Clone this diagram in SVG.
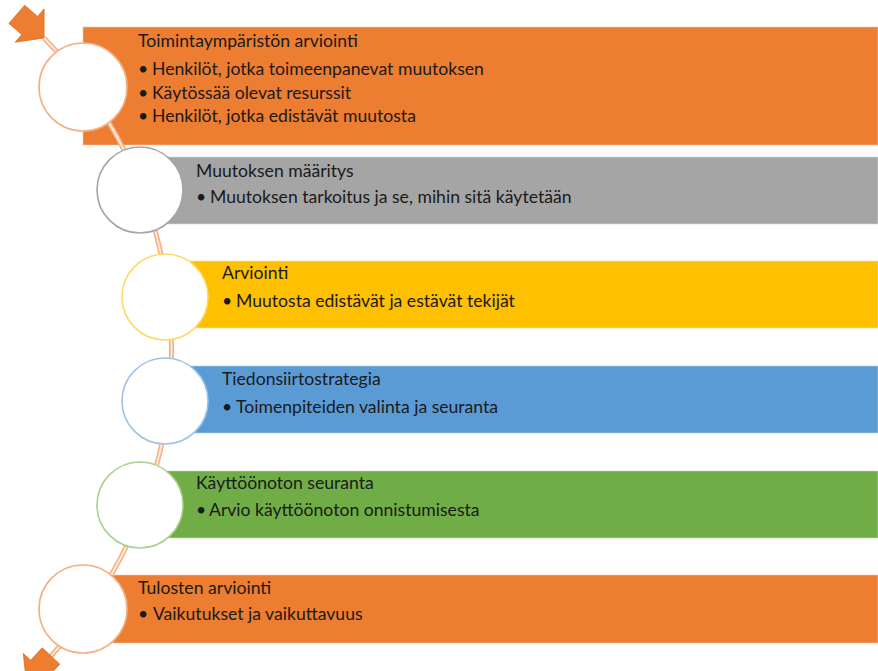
<svg xmlns="http://www.w3.org/2000/svg" width="878" height="671" viewBox="0 0 878 671">
  <style>
    .t { font-family: Lato, "Liberation Sans", sans-serif; font-size: 17.6px; fill: #1a1a1a; }
    .box { stroke-width: 1; stroke-opacity: 0.6; }
    .ring { fill: #ffffff; stroke-width: 1.6; }
    .wire-out { fill: none; stroke: #F4B183; stroke-width: 5; }
    .wire-in { fill: none; stroke: #FDEBDF; stroke-width: 1.8; }
    .arrow { fill: #ED7D31; stroke: #E07020; stroke-width: 0.8; }
  </style>
  <defs>
    <!-- block arrow, tail at origin, pointing along +x -->
    <polygon id="blk" points="0,-12 17,-12 17,-22 36,0 17,22 17,12 0,12"/>
  </defs>
  <rect width="878" height="671" fill="#ffffff"/>

  <!-- coloured bars -->
  <g id="bars">
    <rect class="box" x="83" y="27" width="795" height="118" fill="#ED7D31" stroke="#F8CBAD"/>
    <rect class="box" x="140" y="157" width="738" height="67" fill="#A5A5A5" stroke="#DBDBDB"/>
    <rect class="box" x="165" y="261" width="713" height="67" fill="#FFC000" stroke="#FFE699"/>
    <rect class="box" x="165" y="366" width="713" height="67" fill="#5B9BD5" stroke="#BDD7EE"/>
    <rect class="box" x="140" y="471" width="738" height="67" fill="#70AD47" stroke="#C5E0B4"/>
    <rect class="box" x="83" y="575" width="795" height="68" fill="#ED7D31" stroke="#F8CBAD"/>
  </g>

  <!-- connectors: curved spine with end arrows -->
  <g id="connectors">
    <path class="wire-out" d="M 44 38 A 447 447 0 0 1 51 656"/>
    <path class="wire-in" d="M 44 38 A 447 447 0 0 1 51 656"/>
    <use href="#blk" class="arrow" transform="translate(44 38) rotate(41) translate(-36 0)"/>
    <use href="#blk" class="arrow" transform="translate(51 656) rotate(133)"/>
  </g>

  <g id="n1">
    <circle class="ring" cx="83" cy="87" r="44" stroke="#F4B183"/>
    <text class="t" x="138" y="47">Toimintaympäristön arviointi</text>
    <text class="t" x="138" y="75">•</text><text class="t" x="152" y="75">Henkilöt, jotka toimeenpanevat muutoksen</text>
    <text class="t" x="138" y="99">•</text><text class="t" x="152" y="99">Käytössää olevat resurssit</text>
    <text class="t" x="138" y="122">•</text><text class="t" x="152" y="122">Henkilöt, jotka edistävät muutosta</text>
  </g>

  <g id="n2">
    <circle class="ring" cx="140" cy="190" r="43" stroke="#A5A5A5"/>
    <text class="t" x="196" y="177">Muutoksen määritys</text>
    <text class="t" x="196" y="203">•</text><text class="t" x="210" y="203">Muutoksen tarkoitus ja se, mihin sitä käytetään</text>
  </g>

  <g id="n3">
    <circle class="ring" cx="165" cy="297" r="43" stroke="#FFD966"/>
    <text class="t" x="222" y="279">Arviointi</text>
    <text class="t" x="222" y="307">•</text><text class="t" x="236" y="307">Muutosta edistävät ja estävät tekijät</text>
  </g>

  <g id="n4">
    <circle class="ring" cx="165" cy="401" r="43" stroke="#9DC3E6"/>
    <text class="t" x="222" y="385">Tiedonsiirtostrategia</text>
    <text class="t" x="222" y="413">•</text><text class="t" x="236" y="413">Toimenpiteiden valinta ja seuranta</text>
  </g>

  <g id="n5">
    <circle class="ring" cx="140" cy="505" r="43" stroke="#A9D18E"/>
    <text class="t" x="196" y="489">Käyttöönoton seuranta</text>
    <text class="t" x="196" y="516">•</text><text class="t" x="209" y="516">Arvio käyttöönoton onnistumisesta</text>
  </g>

  <g id="n6">
    <circle class="ring" cx="83" cy="609" r="44" stroke="#F4B183"/>
    <text class="t" x="138" y="594">Tulosten arviointi</text>
    <text class="t" x="138" y="620">•</text><text class="t" x="153" y="620">Vaikutukset ja vaikuttavuus</text>
  </g>
</svg>
